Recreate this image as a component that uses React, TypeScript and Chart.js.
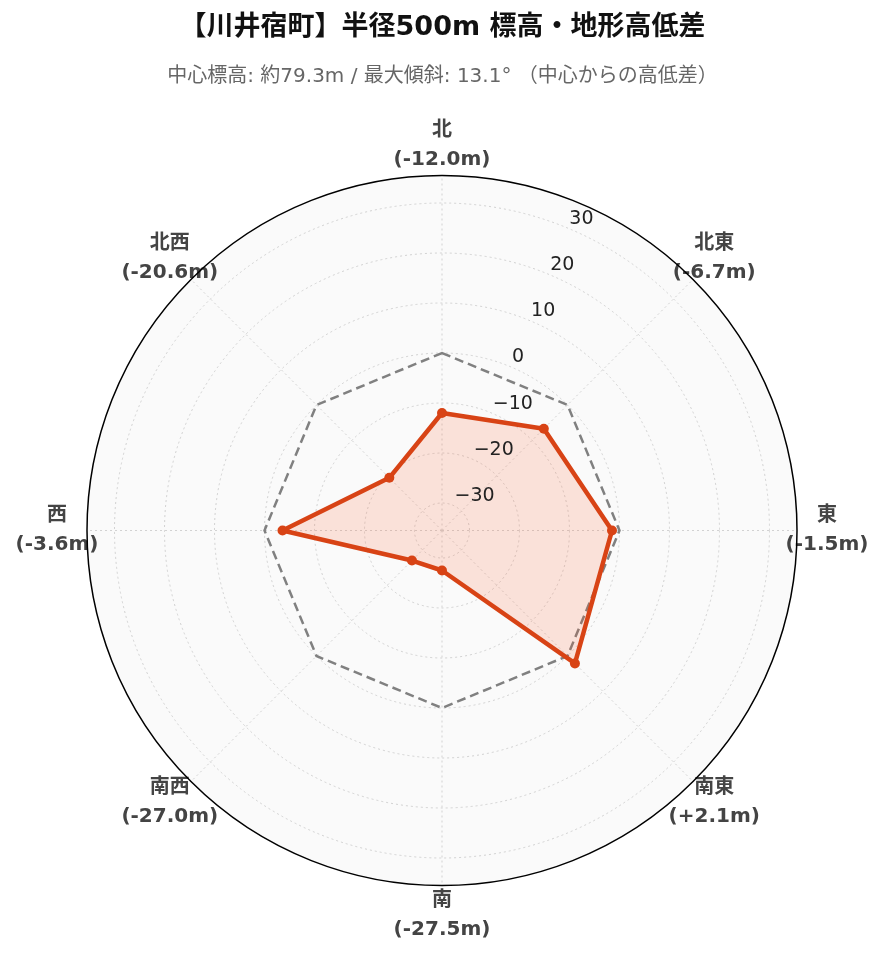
import React, { useEffect, useRef } from 'react';
import { Chart, registerables, Plugin } from 'chart.js';

Chart.register(...registerables);

const TITLE = '【川井宿町】半径500m 標高・地形高低差';
const SUBTITLE = '中心標高: 約79.3m / 最大傾斜: 13.1° （中心からの高低差）';

// 8 directions, clockwise from north
const directions = ['北', '北東', '東', '南東', '南', '南西', '西', '北西'];
// elevation difference from the centre (m)
const elevationDiff = [-12.0, -6.7, -1.5, 2.1, -27.5, -27.0, -3.6, -20.6];
// centre elevation reference (0 m)
const baseline = [0, 0, 0, 0, 0, 0, 0, 0];
const radialTicks = [-30, -20, -10, 0, 10, 20, 30];
const RADIAL_MIN = -35.5;
const RADIAL_MAX = 35.5;

const FONT = "'DejaVu Sans', 'Noto Sans CJK JP', sans-serif";

const fmtDiff = (v: number) => `(${v > 0 ? '+' : ''}${v.toFixed(1)}m)`;
const fmtTick = (v: number) => (v < 0 ? `\u2212${Math.abs(v)}` : `${v}`);

const polarDecor: Plugin<'radar'> = {
  id: 'polarDecor',
  beforeDatasetsDraw(chart) {
    const r: any = chart.scales.r;
    const ctx = chart.ctx;
    const R = r.drawingArea;
    ctx.save();
    // plot background
    ctx.beginPath();
    ctx.arc(r.xCenter, r.yCenter, R, 0, Math.PI * 2);
    ctx.fillStyle = '#fafafa';
    ctx.fill();

    // dotted grid circles + spokes
    ctx.strokeStyle = '#d2d2d2';
    ctx.lineWidth = 1;
    ctx.setLineDash([2, 3]);
    radialTicks.forEach((v) => {
      const d = r.getDistanceFromCenterForValue(v);
      ctx.beginPath();
      ctx.arc(r.xCenter, r.yCenter, d, 0, Math.PI * 2);
      ctx.stroke();
    });
    directions.forEach((_, i) => {
      const p = r.getPointPosition(i, R);
      ctx.beginPath();
      ctx.moveTo(r.xCenter, r.yCenter);
      ctx.lineTo(p.x, p.y);
      ctx.stroke();
    });
    ctx.setLineDash([]);

    // direction labels
    ctx.fillStyle = '#444';
    ctx.font = `bold 20px ${FONT}`;
    ctx.textAlign = 'center';
    ctx.textBaseline = 'middle';
    directions.forEach((name, i) => {
      const p = r.getPointPosition(i, R + 30);
      ctx.fillText(name, p.x, p.y - 14.5);
      ctx.fillText(fmtDiff(elevationDiff[i]), p.x, p.y + 14.5);
    });

    // outer frame
    ctx.beginPath();
    ctx.arc(r.xCenter, r.yCenter, R, 0, Math.PI * 2);
    ctx.strokeStyle = '#000';
    ctx.lineWidth = 1.5;
    ctx.stroke();
    ctx.restore();
  },
  afterDatasetsDraw(chart) {
    const r: any = chart.scales.r;
    const ctx = chart.ctx;
    ctx.save();
    ctx.fillStyle = '#222';
    ctx.font = `19px ${FONT}`;
    ctx.textAlign = 'left';
    ctx.textBaseline = 'middle';
    radialTicks.forEach((v) => {
      const p = r.getPointPosition(0, r.getDistanceFromCenterForValue(v), Math.PI / 8);
      ctx.fillText(fmtTick(v), p.x + 2, p.y - 9);
    });
    ctx.restore();
  },
};

export default function App() {
  const canvasRef = useRef<HTMLCanvasElement | null>(null);

  useEffect(() => {
    if (!canvasRef.current) return;
    Chart.defaults.font.family = FONT;
    const chart = new Chart(canvasRef.current, {
      type: 'radar',
      data: {
        labels: directions,
        datasets: [
          {
            label: '高低差',
            data: elevationDiff,
            borderColor: '#D84315',
            backgroundColor: 'rgba(255,87,34,0.15)',
            fill: 'start',
            borderWidth: 4.5,
            borderJoinStyle: 'round',
            pointRadius: 5,
            pointBorderWidth: 0,
            pointBackgroundColor: '#D84315',
          },
          {
            label: '中心標高',
            data: baseline,
            borderColor: '#808080',
            borderWidth: 2.5,
            borderDash: [9, 5],
            pointRadius: 0,
            fill: false,
          },
        ],
      },
      options: {
        responsive: true,
        maintainAspectRatio: false,
        animation: false,
        elements: { line: { tension: 0 } },
        scales: {
          r: {
            min: RADIAL_MIN,
            max: RADIAL_MAX,
            ticks: { display: false },
            grid: { display: false },
            angleLines: { display: false },
            pointLabels: { display: false },
            afterFit: (scale: any) => {
              scale.xCenter = 434;
              scale.yCenter = 522.5;
              scale.drawingArea = 355;
            },
          },
        },
        plugins: {
          legend: { display: false },
          tooltip: { enabled: false },
          title: {
            display: true,
            text: TITLE,
            color: '#111',
            font: { size: 27, weight: 'bold', family: FONT },
            padding: { top: 4, bottom: 0 },
          },
          subtitle: {
            display: true,
            text: SUBTITLE,
            color: '#666',
            font: { size: 20, family: FONT },
            padding: { top: 20, bottom: 10 },
          },
        },
      },
      plugins: [polarDecor],
    });
    return () => chart.destroy();
  }, []);

  return (
    <div style={{ position: 'relative', width: 869, height: 946 }}>
      <canvas ref={canvasRef} />
    </div>
  );
}
